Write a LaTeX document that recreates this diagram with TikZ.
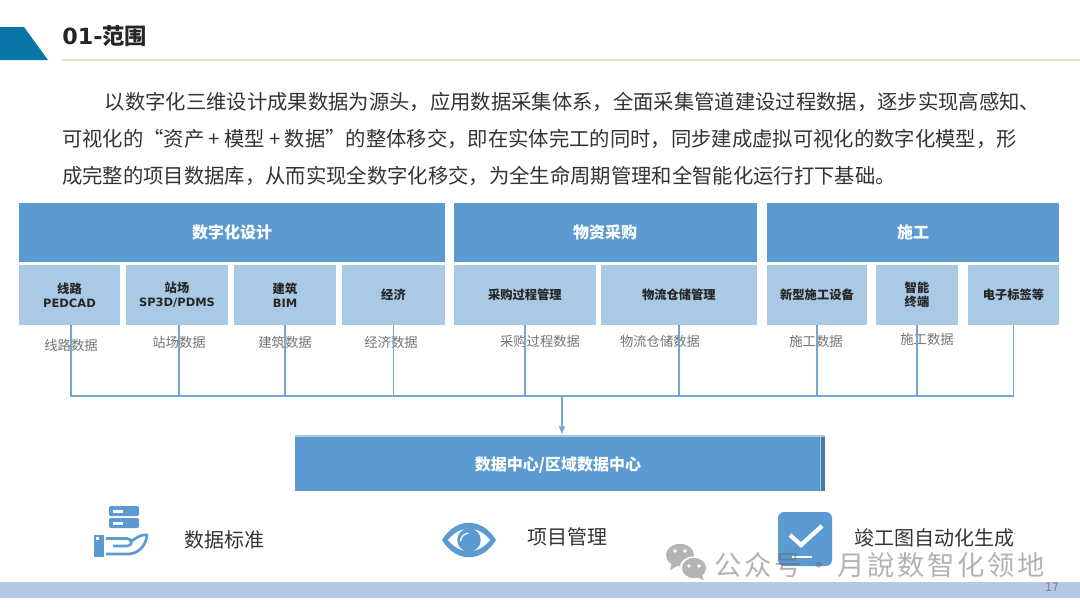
\documentclass[tikz,border=0pt]{standalone}
\usepackage{fontspec}
\setmainfont{Noto Sans CJK SC}
\newfontfamily\latinfont{DejaVu Sans}
\usetikzlibrary{positioning}
\definecolor{headblue}{HTML}{5B9BD1}
\definecolor{subblue}{HTML}{A9C9E5}
\definecolor{wireblue}{HTML}{74A6D0}
\definecolor{bannerblue}{HTML}{0A76A8}
\definecolor{footblue}{HTML}{B5C9E6}
\definecolor{ruleyellow}{HTML}{EEE3B8}
\definecolor{markgray}{HTML}{B4B4B4}
\tikzset{
    headbox/.style={fill=headblue, text=white, inner sep=0pt, outer sep=0pt, minimum height=43.9pt,
        font=\fontsize{12}{14}\selectfont\bfseries, anchor=north west},
    subbox/.style={fill=subblue, text=black!85, inner sep=0pt, outer sep=0pt, minimum height=45pt, align=center,
        font=\fontsize{9.2}{10.5}\selectfont\bfseries},
    datalabel/.style={text=black!55, inner sep=0pt, font=\fontsize{10}{12}\selectfont},
    toollabel/.style={text=black!80, inner sep=0pt, font=\fontsize{15}{18}\selectfont},
    busline/.style={draw=wireblue, line width=1.2pt},
    iconfill/.style={fill=headblue, draw=none}
}
\begin{document}
\begin{tikzpicture}[x=0.75pt, y=-0.75pt]
\useasboundingbox (0,0) rectangle (1080,608);
\fill[bannerblue] (0,27) -- (24,27) -- (48,60) -- (0,60) -- cycle;
\draw[ruleyellow, line width=1pt] (62,60) -- (1080,60);
\node (title) [anchor=west, inner sep=0pt, text=black!85, font=\fontsize{16.7}{20}\selectfont\bfseries] at (62,36) {{\latinfont 01-}范围};
\node (intro) [anchor=north west, inner sep=0pt, align=left, text=black!80, font=\fontsize{15.25}{27.75}\selectfont] at (62,91.5) {\hspace*{32pt}以数字化三维设计成果数据为源头，应用数据采集体系，全面采集管道建设过程数据，逐步实现高感知、\\
可视化的“资产\hspace{3.2pt}+\hspace{3.2pt}模型\hspace{3.2pt}+\hspace{3.2pt}数据”的整体移交，即在实体完工的同时，同步建成虚拟可视化的数字化模型，形\\
成完整的项目数据库，从而实现全数字化移交，为全生命周期管理和全智能化运行打下基础。};

\node (design) [headbox, minimum width=319.5pt] at (19,203) {数字化设计};
\node (purchase) [headbox, minimum width=227.6pt] at (453.5,203) {物资采购};
\node (build) [headbox, minimum width=219pt] at (767,203) {施工};

\node (route) [subbox, minimum width=75.75pt, below right=2.6pt and 0pt of design.south west] {线路\\{\latinfont\fontsize{8.6}{10.5}\selectfont PEDCAD}};
\node (station) [subbox, minimum width=76.5pt, right=4.5pt of route] {站场\\{\latinfont\fontsize{8.6}{10.5}\selectfont SP3D/PDMS}};
\node (house) [subbox, minimum width=76.5pt, right=4.5pt of station] {建筑\\{\latinfont\fontsize{8.6}{10.5}\selectfont BIM}};
\node (economy) [subbox, minimum width=77.25pt, right=4.5pt of house] {经济};
\node (buying) [subbox, minimum width=107pt, below right=2.6pt and 0pt of purchase.south west] {采购过程管理};
\node (store) [subbox, minimum width=117.2pt, right=3.4pt of buying] {物流仓储管理};
\node (device) [subbox, minimum width=75pt, below right=2.6pt and 0pt of build.south west] {新型施工设备};
\node (terminal) [subbox, minimum width=61.5pt, right=6.75pt of device] {智能\\终端};
\node (tag) [subbox, minimum width=68.25pt, right=7.5pt of terminal] {电子标签等};

\node (routedata) [datalabel] at (71,345.5) {线路数据};
\node (stationdata) [datalabel] at (179,342) {站场数据};
\node (housedata) [datalabel] at (285,342) {建筑数据};
\node (economydata) [datalabel] at (391,342) {经济数据};
\node (buyingdata) [datalabel] at (540,341) {采购过程数据};
\node (storedata) [datalabel] at (660,341) {物流仓储数据};
\node (devicedata) [datalabel] at (816,341) {施工数据};
\node (terminaldata) [datalabel] at (927,339) {施工数据};

\node (center) [headbox, minimum width=397.5pt, minimum height=42pt] at (295,435) {\raisebox{-5.5pt}[0pt][0pt]{数据中心/区域数据中心\hspace{3pt}}};
\fill[headblue!80!black] ([xshift=-3pt]center.north east) rectangle (center.south east);
\draw[subblue, line width=0.8pt] ([xshift=-3.4pt]center.north east) -- ([xshift=-3.4pt]center.south east);
\draw[subblue, line width=1.5pt] ([yshift=-0.75pt]center.north west) -- ([yshift=-0.75pt]center.north east);
\coordinate (bus) at (562,396);
\foreach \n/\dx in {route/1.1pt, station/1.5pt, house/0pt, economy/0pt, buying/0pt, store/0pt, device/0pt, terminal/0pt, tag/0pt}
    \draw[busline] ([xshift=\dx]\n.south) |- (bus);
\draw[busline, -latex] (bus) -- (bus |- center.north);

\fill[iconfill, rounded corners=1pt] (109,506) rectangle (139,516);
\fill[iconfill, rounded corners=1pt] (109,518) rectangle (139,528);
\fill[white] (113,510) rectangle (123,513);
\fill[white] (113,521.5) rectangle (123,524.5);
\fill[iconfill] (93.5,535) rectangle (104,557);
\fill[white] (96,537) rectangle (99,540);
\draw[headblue, line width=2pt, line join=round] (106,538.5) -- (127,538.5) .. controls (133,538.5) and (133,546) .. (127,546) -- (113,546);
\draw[headblue, line width=2pt, line join=round] (130,542) .. controls (136,538) and (141,534) .. (147,535) .. controls (146,546) and (138,554) .. (128,554) -- (106,554);
\node (standard) [toollabel] at (224,540) {数据标准};

\fill[iconfill] (442,540) .. controls (456,517) and (482,517) .. (496,540) .. controls (482,563) and (456,563) .. (442,540) -- cycle;
\fill[white] (448,540) .. controls (460,525) and (478,525) .. (490,540) .. controls (478,555) and (460,555) .. (448,540) -- cycle;
\fill[iconfill] (469,540) circle [radius=8.8pt];
\draw[white, line width=0.9pt] (460.5,541) arc [start angle=175, end angle=95, radius=6.5pt];
\node (manage) [toollabel] at (567,537) {项目管理};

\fill[iconfill, rounded corners=4.5pt] (778,512) rectangle (832,566);
\draw[white, line width=3.2pt] (790,535) -- (801,545) -- (822,526);
\draw[white, line width=1.5pt] (792,556.5) -- (812,556.5);
\node (asbuilt) [toollabel] at (934,538) {竣工图自动化生成};

\fill[footblue] (0,582) rectangle (1080,598);
\node (page) [inner sep=0pt, text=black!50, font=\fontsize{9}{11}\selectfont] at (1052,587) {17};

\fill[markgray] (680,555) ellipse [x radius=10.5pt, y radius=8.4pt];
\fill[markgray] (672,562) -- (670,570) -- (679,565) -- cycle;
\fill[white] (693,568) ellipse [x radius=10pt, y radius=8.6pt];
\fill[markgray] (694,568) ellipse [x radius=9pt, y radius=7.6pt];
\fill[markgray] (701,574) -- (704,580) -- (696,577) -- cycle;
\foreach \ex/\ey in {675/551, 685/551, 689/566, 699/566}
    \fill[white] (\ex,\ey) circle [radius=1.4pt];
\node (mark) [anchor=west, inner sep=0pt, text=black!60, opacity=0.5, font=\fontsize{20.5}{24}\selectfont\addfontfeature{LetterSpace=10}] at (714,565) {公众号\hspace{3pt}·\hspace{3pt}月說数智化领地};
\end{tikzpicture}
\end{document}
